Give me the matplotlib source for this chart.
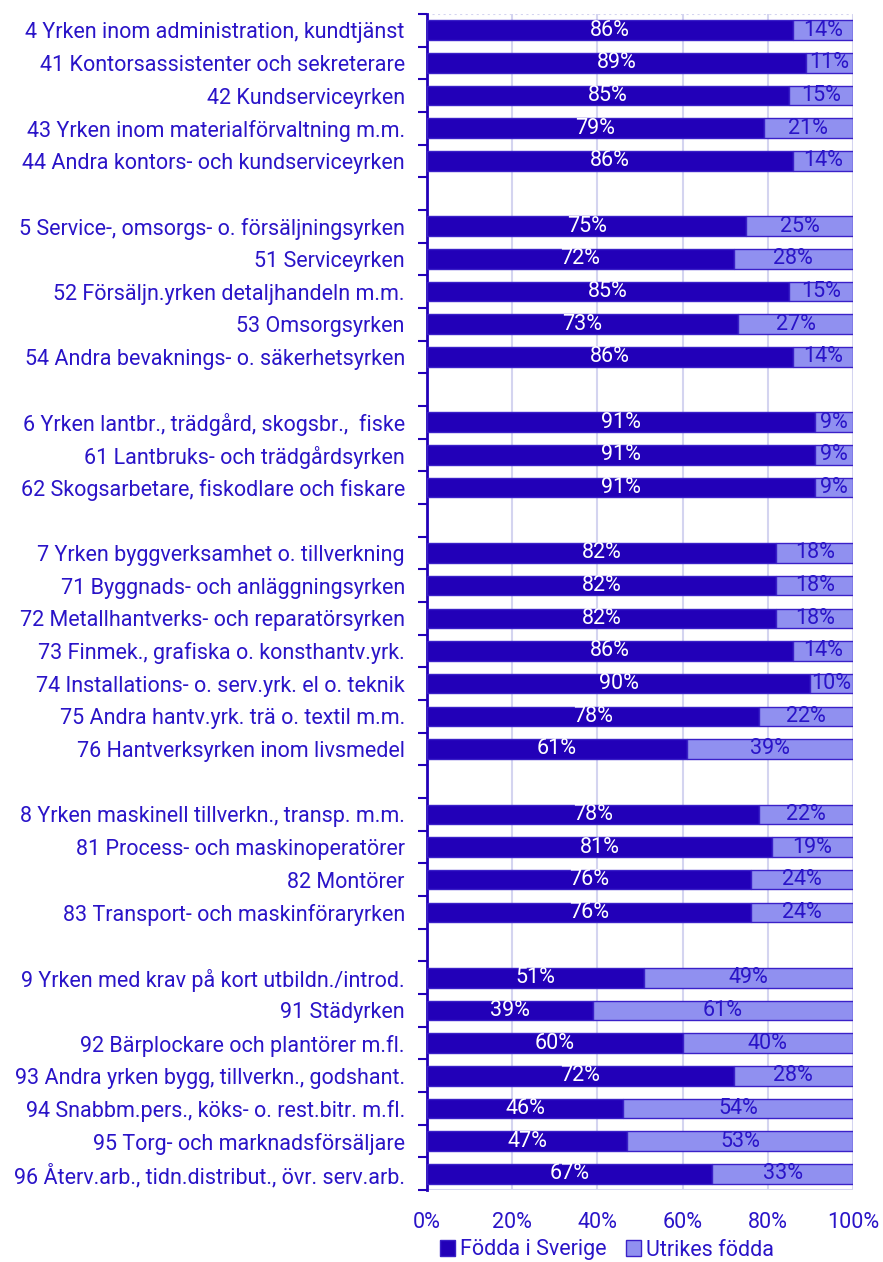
import numpy as np
import matplotlib.pyplot as plt
from matplotlib.patches import Patch

plt.rcParams['font.family'] = ['Roboto', 'DejaVu Sans']

# Categories per group (group header first), blank slot between groups
groups = [
    ["4 Yrken inom administration, kundtjänst",
     "41 Kontorsassistenter och sekreterare",
     "42 Kundserviceyrken",
     "43 Yrken inom materialförvaltning m.m.",
     "44 Andra kontors- och kundserviceyrken"],
    ["5 Service-, omsorgs- o. försäljningsyrken",
     "51 Serviceyrken",
     "52 Försäljn.yrken detaljhandeln m.m.",
     "53 Omsorgsyrken",
     "54 Andra bevaknings- o. säkerhetsyrken"],
    ["6 Yrken lantbr., trädgård, skogsbr.,  fiske",
     "61 Lantbruks- och trädgårdsyrken",
     "62 Skogsarbetare, fiskodlare och fiskare"],
    ["7 Yrken byggverksamhet o. tillverkning",
     "71 Byggnads- och anläggningsyrken",
     "72 Metallhantverks- och reparatörsyrken",
     "73 Finmek., grafiska o. konsthantv.yrk.",
     "74 Installations- o. serv.yrk. el o. teknik",
     "75 Andra hantv.yrk. trä o. textil m.m.",
     "76 Hantverksyrken inom livsmedel"],
    ["8 Yrken maskinell tillverkn., transp. m.m.",
     "81 Process- och maskinoperatörer",
     "82 Montörer",
     "83 Transport- och maskinföraryrken"],
    ["9 Yrken med krav på kort utbildn./introd.",
     "91 Städyrken",
     "92 Bärplockare och plantörer m.fl.",
     "93 Andra yrken bygg, tillverkn., godshant.",
     "94 Snabbm.pers., köks- o. rest.bitr. m.fl.",
     "95 Torg- och marknadsförsäljare",
     "96 Återv.arb., tidn.distribut., övr. serv.arb."],
]
sweden = [
    [86, 89, 85, 79, 86],
    [75, 72, 85, 73, 86],
    [91, 91, 91],
    [82, 82, 82, 86, 90, 78, 61],
    [78, 81, 76, 76],
    [51, 39, 60, 72, 46, 47, 67],
]
foreign = [
    [14, 11, 15, 21, 14],
    [25, 28, 15, 27, 14],
    [9, 9, 9],
    [18, 18, 18, 14, 10, 22, 39],
    [22, 19, 24, 24],
    [49, 61, 40, 28, 54, 53, 33],
]

labels, sv, fo = [], [], []
for i, (g, s, f) in enumerate(zip(groups, sweden, foreign)):
    if i > 0:
        labels.append("")
        sv.append(np.nan)
        fo.append(np.nan)
    labels += g
    sv += s
    fo += f
sv = np.array(sv, dtype=float)
fo = np.array(fo, dtype=float)
y = np.arange(len(labels))

dark = '#2200B8'
light = '#9090F0'
txt = '#2A14C8'
edge = '#3A20C8'
grid = '#D4D4F0'
fs = 15.5

fig = plt.figure(figsize=(8.83, 12.62), dpi=100)
ax = fig.add_axes([0.4836, 0.057, 0.4824, 0.932])

ax.barh(y, sv, height=0.6, color=dark, edgecolor=edge, linewidth=1, zorder=3)
ax.barh(y, fo, left=sv, height=0.6, color=light, edgecolor=edge, linewidth=1, zorder=3)

for yi, a, b in zip(y, sv, fo):
    if np.isnan(a):
        continue
    ax.text(a / 2, yi, f"{a:.0f}%", ha='center', va='center', color='white', fontsize=fs, zorder=4)
    ax.text(a + b / 2, yi, f"{b:.0f}%", ha='center', va='center', color=txt, fontsize=fs, zorder=4)

ax.set_xlim(0, 100)
ax.set_ylim(len(labels) - 0.5, -0.5)
ax.set_xticks(np.arange(0, 101, 20))
ax.set_xticklabels([f"{v}%" for v in range(0, 101, 20)], fontsize=fs, color=txt)
ax.tick_params(axis='x', length=0, pad=16)
ax.set_yticks(y)
ax.set_yticklabels(labels, fontsize=fs, color=txt)
ax.tick_params(axis='y', which='major', length=0, pad=16)
ax.set_yticks(np.arange(-0.5, len(labels), 1), minor=True)
ax.tick_params(axis='y', which='minor', length=6.5, width=1.5, color=dark, direction='out')
ax.xaxis.grid(True, color=grid, linewidth=1.5, zorder=0)
ax.set_axisbelow(True)
for s in ['top', 'bottom', 'right']:
    ax.spines[s].set_visible(False)
ax.axhline(-0.5, color=grid, linewidth=1.5, linestyle=':', zorder=1)
ax.axhline(len(labels) - 0.5, color=grid, linewidth=1.5, zorder=1)
ax.spines['left'].set_color(dark)
ax.spines['left'].set_linewidth(2)

handles = [Patch(facecolor=dark, edgecolor=edge, label='Födda i Sverige'),
           Patch(facecolor=light, edgecolor=edge, label='Utrikes födda')]
leg = fig.legend(handles=handles, loc='center', bbox_to_anchor=(607 / 883, 1 - 1250 / 1262),
                 ncol=2, frameon=False, fontsize=fs, handlelength=0.7, handleheight=0.7,
                 handletextpad=0.25, columnspacing=0.9)
for t in leg.get_texts():
    t.set_color(txt)

fig.savefig('out.png', dpi=100)
